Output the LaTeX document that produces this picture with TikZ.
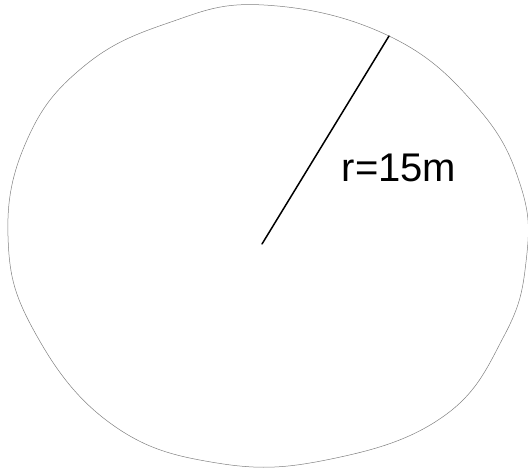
\documentclass[tikz,border=0pt]{standalone}
\usepackage{fontspec}
\setmainfont{Liberation Sans}
\begin{document}
\begin{tikzpicture}[x=1pt,y=-1pt,
  outline/.style={draw=black!50, line width=0.5pt},
  radius/.style={draw=black, line width=1.5pt, line cap=round},
  lbl/.style={font=\fontsize{40}{42}\selectfont, inner sep=0pt}]
\useasboundingbox (0,0) rectangle (528,472);
\draw[outline] plot[smooth cycle, tension=0.7] coordinates {
 (264,5) (389,36) (477,107) (521,187) (526,262) (504,336) (444,416)
 (331,459) (217,463) (110,423) (33,329) (8,236) (27,140) (83,67) (168,23)};
\coordinate (c) at (262,244);
\coordinate (e) at (389,36);
\draw[radius] (c) -- (e);
\node[lbl] (r) at (399,168) {r=15m};
\end{tikzpicture}
\end{document}
